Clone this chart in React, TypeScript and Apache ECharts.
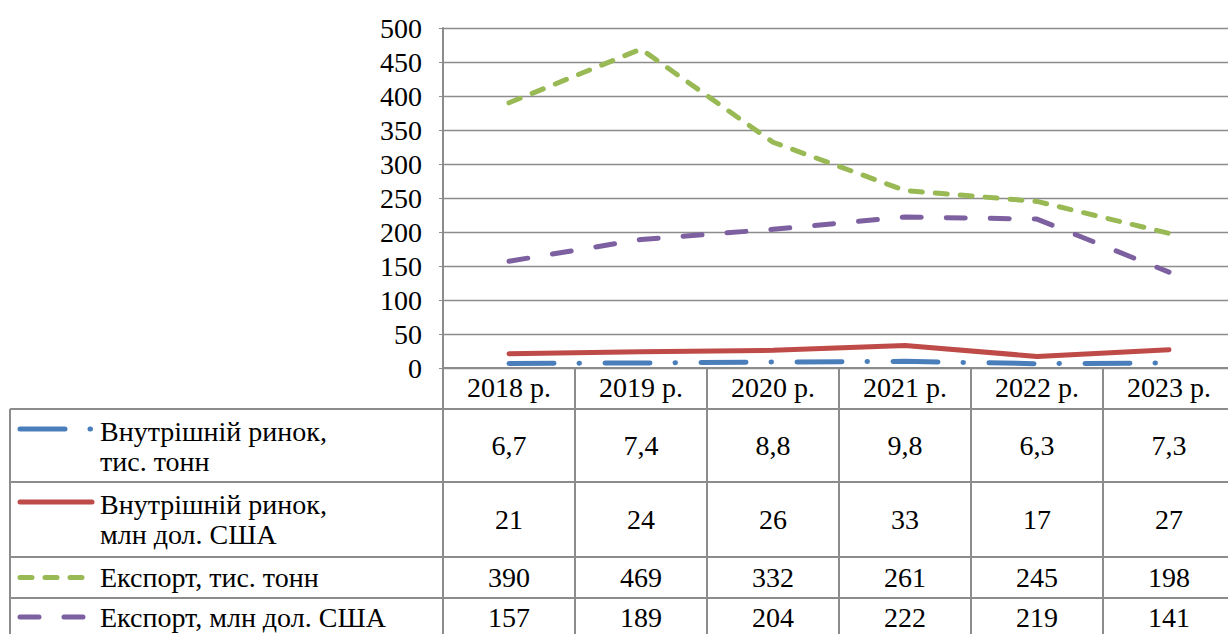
import React, { useEffect, useRef } from "react";
import * as echarts from "echarts";

const categories = ["2018 р.", "2019 р.", "2020 р.", "2021 р.", "2022 р.", "2023 р."];
const domesticTons = [6.7, 7.4, 8.8, 9.8, 6.3, 7.3];
const domesticUsd = [21, 24, 26, 33, 17, 27];
const exportTons = [390, 469, 332, 261, 245, 198];
const exportUsd = [157, 189, 204, 222, 219, 141];
const yTicks = { min: 0, max: 500, interval: 50 };

const seriesDefs = [
  { label: ["Внутрішній ринок,", "тис. тонн"], data: domesticTons, color: "#4a7ebb", dash: [45, 25, 0.5, 25.5] as any, legendEnd: 92 },
  { label: ["Внутрішній ринок,", "млн дол. США"], data: domesticUsd, color: "#be4b48", dash: "solid" as any, legendEnd: 92 },
  { label: ["Експорт, тис. тонн"], data: exportTons, color: "#98b954", dash: [12, 13] as any, legendEnd: 86 },
  { label: ["Експорт, млн дол. США"], data: exportUsd, color: "#7d60a0", dash: [19, 25] as any, legendEnd: 86 },
];

const fmt = (v: number) => String(v).replace(".", ",");

export default function App() {
  const ref = useRef<HTMLDivElement>(null);
  useEffect(() => {
    if (!ref.current) return;
    const chart = echarts.init(ref.current, null, { renderer: "svg" });
    const FONT = "Liberation Serif";
    const FS = 28;
    const gridLeft = 443;
    const gridTop = 28;
    const gridH = 340;
    const catW = 132;
    const gridW = catW * categories.length;
    const tableLeft = 10;
    const rightEdge = gridLeft + gridW;
    const rows = [
      { top: 409, bottom: 482 },
      { top: 482, bottom: 557 },
      { top: 557, bottom: 598 },
      { top: 598, bottom: 640 },
    ];
    const lineColor = "#8c8c8c";
    const graphics: any[] = [];
    const hline = (x1: number, x2: number, y: number, w = 2) =>
      graphics.push({ type: "line", shape: { x1, y1: y, x2, y2: y }, style: { stroke: lineColor, lineWidth: w }, z: 10 });
    const vline = (x: number, y1: number, y2: number, w = 2) =>
      graphics.push({ type: "line", shape: { x1: x, y1, x2: x, y2 }, style: { stroke: lineColor, lineWidth: w }, z: 10 });

    hline(tableLeft, rightEdge, rows[0].top);
    rows.forEach((r) => hline(tableLeft, rightEdge, r.bottom));
    vline(tableLeft, rows[0].top, 640);
    vline(gridLeft, gridTop + gridH, 640);
    for (let k = 1; k <= categories.length; k++) vline(gridLeft + catW * k, gridTop + gridH, 640);

    const txt = (x: number, y: number, text: string, align: string) => ({
      type: "text",
      x,
      y,
      style: { text, fontFamily: FONT, fontSize: FS, fill: "#000", textAlign: align, textVerticalAlign: "middle" },
      z: 11,
    });

    seriesDefs.forEach((s, i) => {
      const r = rows[i];
      const cy = (r.top + r.bottom) / 2 - (i === 3 ? 2 : 0);
      const ly = s.label.length > 1 ? r.top + 20 : cy;
      graphics.push({
        type: "line",
        shape: { x1: 20, y1: ly, x2: s.legendEnd, y2: ly },
        style: { stroke: s.color, lineWidth: 5, lineCap: "round", lineDash: s.dash === "solid" ? null : s.dash },
        z: 11,
      });
      s.label.forEach((t, j) => {
        graphics.push(txt(100, s.label.length > 1 ? r.top + 22 + j * 30 : cy, t, "left"));
      });
      s.data.forEach((v, k) => {
        graphics.push(txt(gridLeft + catW * (k + 0.5), cy, fmt(v), "center"));
      });
    });

    chart.setOption({
      animation: false,
      textStyle: { fontFamily: FONT },
      grid: { left: gridLeft, top: gridTop, width: gridW, height: gridH, containLabel: false },
      xAxis: {
        type: "category",
        data: categories,
        boundaryGap: true,
        axisLine: { show: true, lineStyle: { color: lineColor, width: 2 } },
        axisTick: { show: false },
        axisLabel: { color: "#000", fontFamily: FONT, fontSize: FS, margin: 5 },
        splitLine: { show: false },
      },
      yAxis: {
        type: "value",
        min: yTicks.min,
        max: yTicks.max,
        interval: yTicks.interval,
        axisLine: { show: true, lineStyle: { color: lineColor, width: 2 } },
        axisTick: { show: true, length: 4, lineStyle: { color: lineColor } },
        axisLabel: { color: "#000", fontFamily: FONT, fontSize: FS, margin: 21 },
        splitLine: { show: true, lineStyle: { color: "#8c8c8c", width: 1.3 } },
      },
      series: seriesDefs.map((s) => ({
        type: "line",
        name: s.label.join(" "),
        data: s.data,
        symbol: "none",
        lineStyle: { color: s.color, width: 5, type: s.dash, cap: "round", join: "round" },
        z: 5,
      })),
      graphic: graphics,
    });
    return () => chart.dispose();
  }, []);
  return (
    <div style={{ position: "fixed", left: 0, top: 0, width: 1228, height: 634, overflow: "hidden", background: "#fff" }}>
      <div ref={ref} style={{ width: 1240, height: 634 }} />
    </div>
  );
}
